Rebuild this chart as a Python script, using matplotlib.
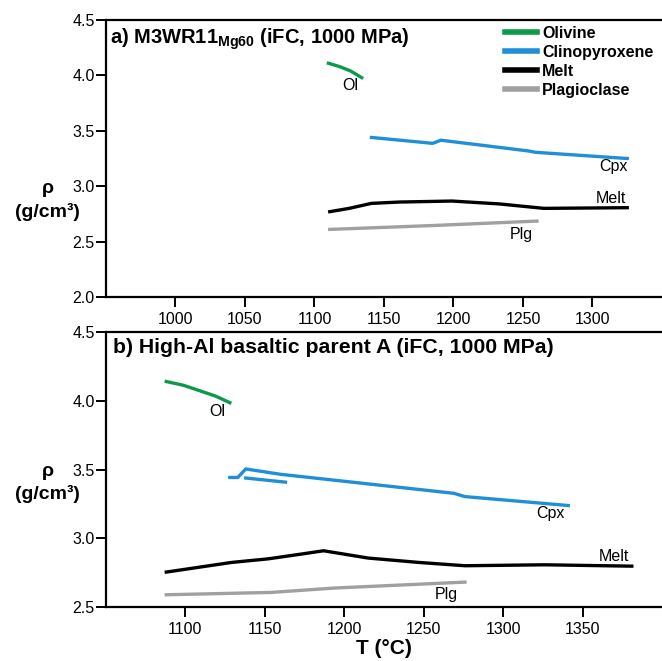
import numpy as np
import matplotlib.pyplot as plt
from matplotlib.lines import Line2D

plt.rcParams['font.family'] = ['Liberation Sans', 'DejaVu Sans']
plt.rcParams['mathtext.fontset'] = 'custom'
plt.rcParams['mathtext.rm'] = 'Liberation Sans'
plt.rcParams['mathtext.bf'] = 'Liberation Sans:bold'

C_OL = '#0b9a48'
C_CPX = '#1f90d8'
C_MELT = '#000000'
C_PLG = '#a0a0a0'

# panel a) M3WR11
a_ol_t = [1110, 1118, 1126, 1134]
a_ol_rho = [4.11, 4.08, 4.04, 3.98]
a_cpx_t = [1141, 1185, 1191, 1254, 1259, 1325]
a_cpx_rho = [3.44, 3.387, 3.415, 3.318, 3.306, 3.25]
a_melt_t = [1111, 1125, 1141, 1161, 1199, 1233, 1265, 1325]
a_melt_rho = [2.77, 2.80, 2.845, 2.857, 2.866, 2.84, 2.80, 2.806]
a_plg_t = [1111, 1185, 1260]
a_plg_rho = [2.61, 2.645, 2.685]

# panel b) High-Al basaltic parent A
b_ol_t = [1088, 1099, 1109, 1119, 1128]
b_ol_rho = [4.14, 4.112, 4.073, 4.034, 3.986]
b_cpx_t = [1128, 1133, 1138, 1160, 1269, 1276, 1341]
b_cpx_rho = [3.442, 3.442, 3.504, 3.465, 3.327, 3.303, 3.238]
b_cpx2_t = [1138, 1163]
b_cpx2_rho = [3.438, 3.408]
b_melt_t = [1088, 1112, 1129, 1152, 1173, 1187, 1215, 1247, 1276, 1326, 1381]
b_melt_rho = [2.754, 2.795, 2.824, 2.85, 2.885, 2.909, 2.856, 2.824, 2.80, 2.807, 2.797]
b_plg_t = [1088, 1154, 1194, 1276]
b_plg_rho = [2.589, 2.606, 2.638, 2.681]

LW = 2.4

fig = plt.figure(figsize=(6.62, 6.61), dpi=100)
ax1 = fig.add_axes([0.160, 0.5507, 0.840, 0.4190])
ax2 = fig.add_axes([0.160, 0.0817, 0.840, 0.4160])


def style(ax, xlim, ylim, xticks, yticks):
    ax.set_xlim(*xlim)
    ax.set_ylim(*ylim)
    ax.set_xticks(xticks)
    ax.set_yticks(yticks)
    ax.set_yticklabels([f'{v:.1f}' for v in yticks])
    ax.spines['right'].set_visible(False)
    for s in ['left', 'bottom', 'top']:
        ax.spines[s].set_linewidth(1.6)
    ax.tick_params(direction='out', length=7, width=1.4, labelsize=11.5,
                   pad=1, colors='black')
    ax.tick_params(axis='x', pad=4)


style(ax1, (950, 1350), (2.0, 4.5), [1000, 1050, 1100, 1150, 1200, 1250, 1300],
      [2.0, 2.5, 3.0, 3.5, 4.0, 4.5])
style(ax2, (1050, 1400), (2.5, 4.5), [1100, 1150, 1200, 1250, 1300, 1350],
      [2.5, 3.0, 3.5, 4.0, 4.5])

ax1.plot(a_ol_t, a_ol_rho, color=C_OL, lw=LW)
ax1.plot(a_cpx_t, a_cpx_rho, color=C_CPX, lw=LW)
ax1.plot(a_melt_t, a_melt_rho, color=C_MELT, lw=LW)
ax1.plot(a_plg_t, a_plg_rho, color=C_PLG, lw=LW)

ax2.plot(b_ol_t, b_ol_rho, color=C_OL, lw=LW)
ax2.plot(b_cpx_t, b_cpx_rho, color=C_CPX, lw=LW)
ax2.plot(b_cpx2_t, b_cpx2_rho, color=C_CPX, lw=LW)
ax2.plot(b_melt_t, b_melt_rho, color=C_MELT, lw=LW)
ax2.plot(b_plg_t, b_plg_rho, color=C_PLG, lw=LW)

lab = dict(fontsize=11.5, color='black')
ax1.text(1126, 3.91, 'Ol', ha='center', va='center', **lab)
ax1.text(1325, 3.18, 'Cpx', ha='right', va='center', **lab)
ax1.text(1324, 2.885, 'Melt', ha='right', va='center', **lab)
ax1.text(1249, 2.56, 'Plg', ha='center', va='center', **lab)

ax2.text(1120, 3.92, 'Ol', ha='center', va='center', **lab)
ax2.text(1330, 3.18, 'Cpx', ha='center', va='center', **lab)
ax2.text(1379, 2.87, 'Melt', ha='right', va='center', **lab)
ax2.text(1264, 2.59, 'Plg', ha='center', va='center', **lab)

ax1.text(0.008, 0.975, r'a) M3WR11$_{\mathbf{Mg60}}$ (iFC, 1000 MPa)',
         transform=ax1.transAxes, ha='left', va='top', fontsize=14.5,
         fontweight='bold')
ax2.text(0.012, 0.978, 'b) High-Al basaltic parent A (iFC, 1000 MPa)',
         transform=ax2.transAxes, ha='left', va='top', fontsize=15.3,
         fontweight='bold')

# y label as two stacked texts: rho, then unit
for ax, y_rho, y_unit in [(ax1, 0.392, 0.308), (ax2, 0.493, 0.410)]:
    ax.text(-0.105, y_rho, 'ρ', transform=ax.transAxes, ha='center',
            va='center', fontsize=14, fontweight='bold')
    ax.text(-0.105, y_unit, '(g/cm³)', transform=ax.transAxes, ha='center',
            va='center', fontsize=14, fontweight='bold')

ax2.set_xlabel('T (°C)', fontsize=15, fontweight='bold', labelpad=1)

handles = [Line2D([], [], color=c, lw=4) for c in [C_OL, C_CPX, C_MELT, C_PLG]]
ax1.legend(handles, ['Olivine', 'Clinopyroxene', 'Melt', 'Plagioclase'],
           loc='upper right', bbox_to_anchor=(1.0, 1.01), frameon=False,
           prop={'weight': 'bold', 'size': 11.5}, handlelength=2.0,
           handletextpad=0.3, labelspacing=0.24, borderaxespad=0.15)

fig.savefig('out.png', dpi=100)
